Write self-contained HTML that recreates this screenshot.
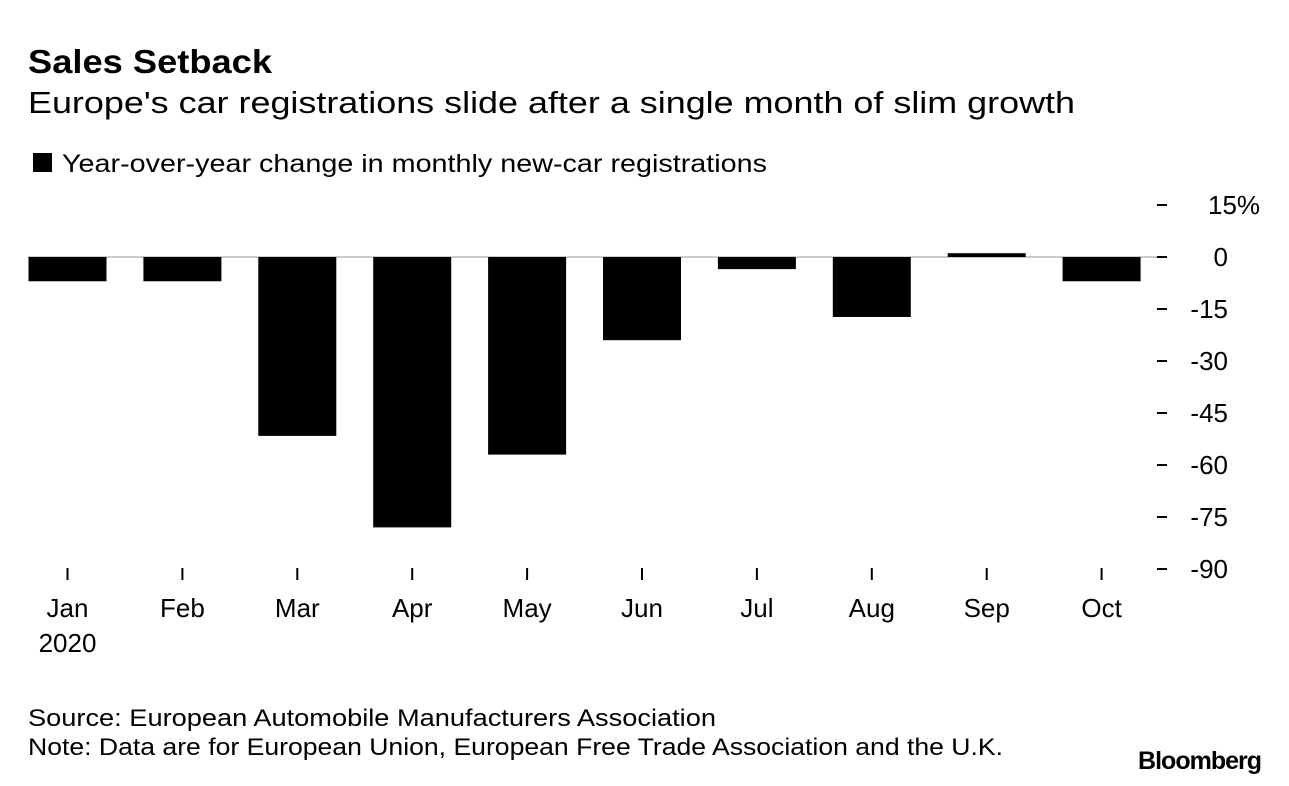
<!DOCTYPE html>
<html><head><meta charset="utf-8"><style>
body{margin:0;background:#fff;width:1289px;height:786px;overflow:hidden;font-family:"Liberation Sans",Arial,sans-serif;color:#000}
svg{position:absolute;left:0;top:0}
</style></head><body>
<svg width="1289" height="786">
<text x="28" y="73" font-size="33" font-weight="bold" textLength="244" lengthAdjust="spacingAndGlyphs">Sales Setback</text>
<text x="28" y="113" font-size="31" textLength="1047" lengthAdjust="spacingAndGlyphs">Europe's car registrations slide after a single month of slim growth</text>
<rect x="33" y="153" width="19" height="19" fill="#000"/>
<text x="62" y="172" font-size="25" textLength="705" lengthAdjust="spacingAndGlyphs">Year-over-year change in monthly new-car registrations</text>
<g id="plot"></g>
<text x="28" y="726" font-size="24" textLength="688" lengthAdjust="spacingAndGlyphs">Source: European Automobile Manufacturers Association</text>
<text x="28" y="755" font-size="24" textLength="975" lengthAdjust="spacingAndGlyphs">Note: Data are for European Union, European Free Trade Association and the U.K.</text>
<text x="1261" y="769" font-size="25" font-weight="bold" text-anchor="end" letter-spacing="-1">Bloomberg</text>
</svg>
<script>
const categories=["Jan","Feb","Mar","Apr","May","Jun","Jul","Aug","Sep","Oct"];
const values=[-7.0,-7.0,-51.6,-78.0,-57.0,-24.0,-3.5,-17.3,1.1,-7.0];
const yTicks=[15,0,-15,-30,-45,-60,-75,-90];
const yTickLabels=["15%","0","-15","-30","-45","-60","-75","-90"];
const NS="http://www.w3.org/2000/svg";
const g=document.getElementById('plot');
const y=v=>257-v*(312/90);
const x=i=>67.5+i*114.9;
const bw=78;
function mk(t,a){const e=document.createElementNS(NS,t);for(const k in a)e.setAttribute(k,a[k]);g.appendChild(e);return e;}
const zl=mk('line',{x1:28,x2:1167,y1:y(0),y2:y(0),stroke:'#999','stroke-width':1});


values.forEach((v,i)=>{
 const r=mk('rect',{x:x(i)-bw/2,y:Math.min(y(v),y(0)),width:bw,height:Math.abs(y(v)-y(0)),fill:'#000'});
 
 
});
yTicks.forEach((t,i)=>{
 const l=mk('line',{x1:1157,x2:1167,y1:y(t),y2:y(t),stroke:'#000','stroke-width':2});
 
 
 const tx=mk('text',{x:i===0?1208:1228,y:y(t)+9,'font-size':26,'text-anchor':i===0?'start':'end'});
 tx.textContent=yTickLabels[i];
 
 
});
categories.forEach((c,i)=>{
 const l=mk('line',{x1:x(i),x2:x(i),y1:568,y2:580,stroke:'#000','stroke-width':2});
 
 
 const tx=mk('text',{x:x(i),y:617,'font-size':26,'text-anchor':'middle'});
 tx.textContent=c;
 
 
});
const yr=mk('text',{x:x(0),y:652,'font-size':26,'text-anchor':'middle'});
yr.textContent='2020';


</script>
</body></html>
